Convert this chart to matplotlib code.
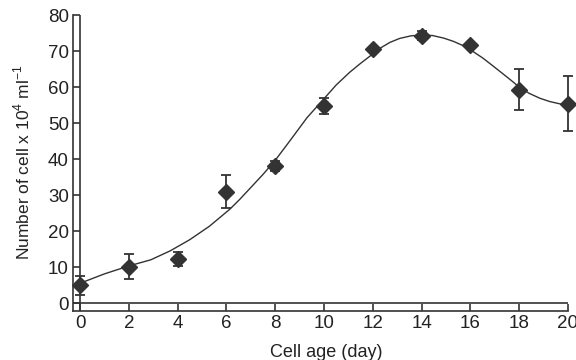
"""Cell growth curve with error bars"""

import numpy as np
import matplotlib
matplotlib.use('Agg')
import matplotlib.pyplot as plt
from matplotlib import font_manager

# measured points
days = [0, 2, 4, 6, 8, 10, 12, 14, 16, 18, 20]
cells = [5.0, 10.2, 12.3, 31.0, 38.1, 54.8, 70.6, 74.3, 71.7, 59.3, 55.4]
err = [2.7, 3.5, 2.0, 4.5, 1.5, 2.3, 0.6, 1.2, 0.6, 5.6, 7.7]

# fitted curve
fit_x = [0, 1, 2, 2.9, 3.7, 4.5, 5.3, 6.15, 6.55, 6.95, 7.5, 8.0, 8.6, 9.3, 10.0,
         10.5, 11.05, 11.5, 12.0, 12.3, 12.7, 13.1, 13.55, 14.0, 14.45, 14.9,
         15.3, 15.7, 16.1, 16.5, 16.9, 17.35, 17.7, 18.0, 18.4, 18.85, 19.25, 19.7]
fit_y = [5.6, 8.2, 10.4, 12.1, 14.6, 17.7, 21.4, 26.2, 28.9, 31.8, 35.8, 39.7, 45.1,
         51.5, 56.8, 60.6, 64.1, 66.6, 69.2, 70.8, 72.4, 73.5, 74.2, 74.5, 74.3, 73.6,
         72.7, 71.5, 69.9, 68.1, 66.0, 63.6, 61.7, 60.0, 58.3, 56.9, 56.0, 55.3]

xticks = list(range(0, 21, 2))
yticks = list(range(0, 81, 10))

names = {f.name for f in font_manager.fontManager.ttflist}
fam = ['Liberation Sans Narrow', 'Liberation Sans', 'DejaVu Sans']
fam = [f for f in fam if f in names]
plt.rcParams['font.family'] = fam
plt.rcParams['mathtext.fontset'] = 'custom'
plt.rcParams['mathtext.rm'] = fam[0]

dark = '#333333'
txt = '#222222'

fig = plt.figure(figsize=(5.76, 3.6), dpi=100)
ax = fig.add_axes([73/576, 1-311/360, (568-73)/576, (311-15)/360])

ax.plot(fit_x, fit_y, color=dark, lw=1.0, solid_joinstyle='round')
ax.errorbar(days, cells, yerr=err, fmt='D', color=dark, ms=8, elinewidth=1.3,
            capsize=3.8, capthick=1.3, clip_on=False, zorder=3)

ax.axhline(0, color=dark, lw=1.2)
ax.axvline(0, color=dark, lw=1.2)

ax.set_xlim(-0.29, 20)
ax.set_ylim(-2.1, 80)
ax.set_xticks(xticks)
ax.set_yticks(yticks)
for s in ['top', 'right']:
    ax.spines[s].set_visible(False)
for s in ['left', 'bottom']:
    ax.spines[s].set_color(dark)
    ax.spines[s].set_linewidth(1.2)
ax.tick_params(direction='in', length=5, width=1.2, color=dark,
               labelsize=13.5, labelcolor=txt)
ax.tick_params(axis='x', pad=3)
ax.tick_params(axis='y', pad=3)

fig.text(326/576, 1-357/360, 'Cell age (day)', ha='center', va='baseline',
         fontsize=13, color=txt)
fig.text(22/576, 0.55, r'Number of cell x 10$^{\mathregular{4}}$ ml$^{\mathregular{-1}}$',
         rotation=90, ha='center', va='center', fontsize=12.5, color=txt)

fig.savefig('out.png', dpi=100)
